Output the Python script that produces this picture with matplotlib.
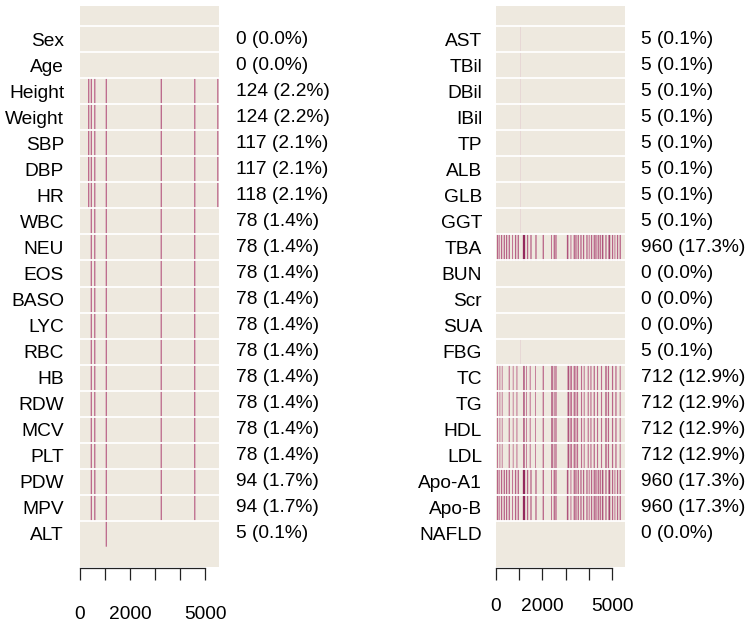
import matplotlib
matplotlib.use("Agg")
import matplotlib.pyplot as plt
from matplotlib.colors import LinearSegmentedColormap

plt.rcParams['font.family'] = ['Liberation Sans', 'DejaVu Sans']

N_ROWS = 5540

left_vars = ["Sex", "Age", "Height", "Weight", "SBP", "DBP", "HR", "WBC", "NEU", "EOS",
             "BASO", "LYC", "RBC", "HB", "RDW", "MCV", "PLT", "PDW", "MPV", "ALT"]
right_vars = ["AST", "TBil", "DBil", "IBil", "TP", "ALB", "GLB", "GGT", "TBA", "BUN",
              "Scr", "SUA", "FBG", "TC", "TG", "HDL", "LDL", "Apo-A1", "Apo-B", "NAFLD"]

# missing rows as (first row index, number of rows) blocks
anthro_miss = [(340, 16), (444, 20), (580, 22), (1050, 5), (3240, 24), (4580, 22), (5505, 15)]
bp_miss = [(340, 14), (444, 19), (580, 21), (1050, 5), (3240, 23), (4580, 21), (5505, 14)]
hr_miss = [(340, 15), (444, 19), (580, 21), (1050, 5), (3240, 23), (4580, 21), (5505, 14)]
blood_miss = [(444, 17), (580, 20), (1050, 5), (3240, 19), (4580, 17)]
plt_idx_miss = [(444, 21), (580, 24), (1050, 5), (3240, 23), (4580, 21)]
liver_miss = [(1050, 5)]
lipid_miss = [(56, 20), (159, 18), (259, 18), (560, 22), (733, 18), (892, 20), (1190, 30),
              (1306, 18), (1465, 20), (1694, 18), (2026, 24), (2400, 30), (2500, 20),
              (2573, 25), (3103, 30), (3190, 20), (3246, 20), (3362, 25), (3435, 20),
              (3504, 22), (3676, 22), (3793, 20), (3965, 22), (4082, 22), (4224, 24),
              (4366, 22), (4538, 22), (4728, 28), (4836, 24), (5013, 24), (5159, 24),
              (5344, 20)]
tba_miss = [(56, 25), (129, 20), (228, 25), (345, 25), (444, 25), (560, 25), (703, 20),
            (832, 25), (948, 25), (1185, 45), (1349, 25), (1496, 25), (1711, 25),
            (2026, 25), (2383, 20), (2500, 25), (2573, 25), (3073, 30), (3220, 20),
            (3362, 25), (3435, 25), (3534, 25), (3651, 25), (3763, 25), (3909, 25),
            (4008, 20), (4108, 25), (4224, 25), (4297, 25), (4396, 25), (4482, 25),
            (4582, 30), (4728, 25), (4870, 35), (5013, 25), (5116, 20), (5228, 25),
            (5344, 25)]

missing = {
    "Sex": [], "Age": [],
    "Height": anthro_miss, "Weight": anthro_miss,
    "SBP": bp_miss, "DBP": bp_miss, "HR": hr_miss,
    "WBC": blood_miss, "NEU": blood_miss, "EOS": blood_miss, "BASO": blood_miss,
    "LYC": blood_miss, "RBC": blood_miss, "HB": blood_miss, "RDW": blood_miss,
    "MCV": blood_miss, "PLT": blood_miss,
    "PDW": plt_idx_miss, "MPV": plt_idx_miss,
    "ALT": liver_miss, "AST": liver_miss, "TBil": liver_miss, "DBil": liver_miss,
    "IBil": liver_miss, "TP": liver_miss, "ALB": liver_miss, "GLB": liver_miss,
    "GGT": liver_miss, "TBA": tba_miss,
    "BUN": [], "Scr": [], "SUA": [], "FBG": liver_miss,
    "TC": lipid_miss, "TG": lipid_miss, "HDL": lipid_miss, "LDL": lipid_miss,
    "Apo-A1": tba_miss, "Apo-B": tba_miss, "NAFLD": [],
}

BG = '#EEE9DF'
FS = 13.8
miss_cmap = LinearSegmentedColormap.from_list('miss', ['#DDB3C4', '#BD6A8C', '#93295C'])


def draw_panel(ax, names, width_px, widen, min_px, cfloor, label_pad, count_off, tick_pad):
    ax.set_facecolor(BG)
    px_per_row = width_px / N_ROWS
    for i, name in enumerate(names):
        blocks = missing[name]
        for s, n in blocks:
            lw_px = max(n * px_per_row * widen, min_px)
            c = miss_cmap(min(max(n / 45, cfloor), 1))
            ax.vlines(s + n / 2, i - 0.5, i + 0.5, colors=[c],
                      linewidth=lw_px * 0.72, zorder=2, snap=False)
        n = sum(b[1] for b in blocks)
        ax.annotate(f"{n} ({100 * n / N_ROWS:.1f}%)", xy=(1, i),
                    xycoords=('axes fraction', 'data'),
                    xytext=(count_off, 0), textcoords='offset points',
                    ha='left', va='center', fontsize=FS)
        ax.axhline(i - 0.5, color='white', lw=1.3, zorder=3)
    for s in ['top', 'left', 'right']:
        ax.spines[s].set_visible(False)
    ax.spines['bottom'].set_position(('outward', 1))
    ax.spines['bottom'].set_bounds(0, 5000)
    ax.spines['bottom'].set_linewidth(0.9)
    ax.spines['bottom'].set_color('#222222')
    ax.set_xlim(0, N_ROWS)
    ax.set_ylim(19.5 + 0.78, -0.5 - 0.78)
    ax.set_yticks(range(len(names)))
    ax.set_yticklabels(names, fontsize=FS)
    ax.tick_params(axis='y', length=0, pad=label_pad)
    ax.set_xticks([0, 1000, 2000, 3000, 4000, 5000])
    ax.set_xticklabels(['0', '', '2000', '', '', '5000'], fontsize=FS)
    ax.tick_params(axis='x', length=8.6, width=0.9, pad=tick_pad, color='#222222')


fig = plt.figure(figsize=(7.49, 6.24), dpi=100)
ax1 = fig.add_axes([80 / 749, 1 - 567 / 624, 138.5 / 749, 561 / 624])
ax2 = fig.add_axes([496 / 749, 1 - 567 / 624, 128.5 / 749, 561 / 624])

draw_panel(ax1, left_vars, 138.5, 1.0, 1.3, 0.5, 11.5, 12.6, 18.5)
draw_panel(ax2, right_vars, 128.5, 2.2, 0.0, 0.0, 10, 11.9, 12.5)

fig.savefig("out.png", dpi=100)
